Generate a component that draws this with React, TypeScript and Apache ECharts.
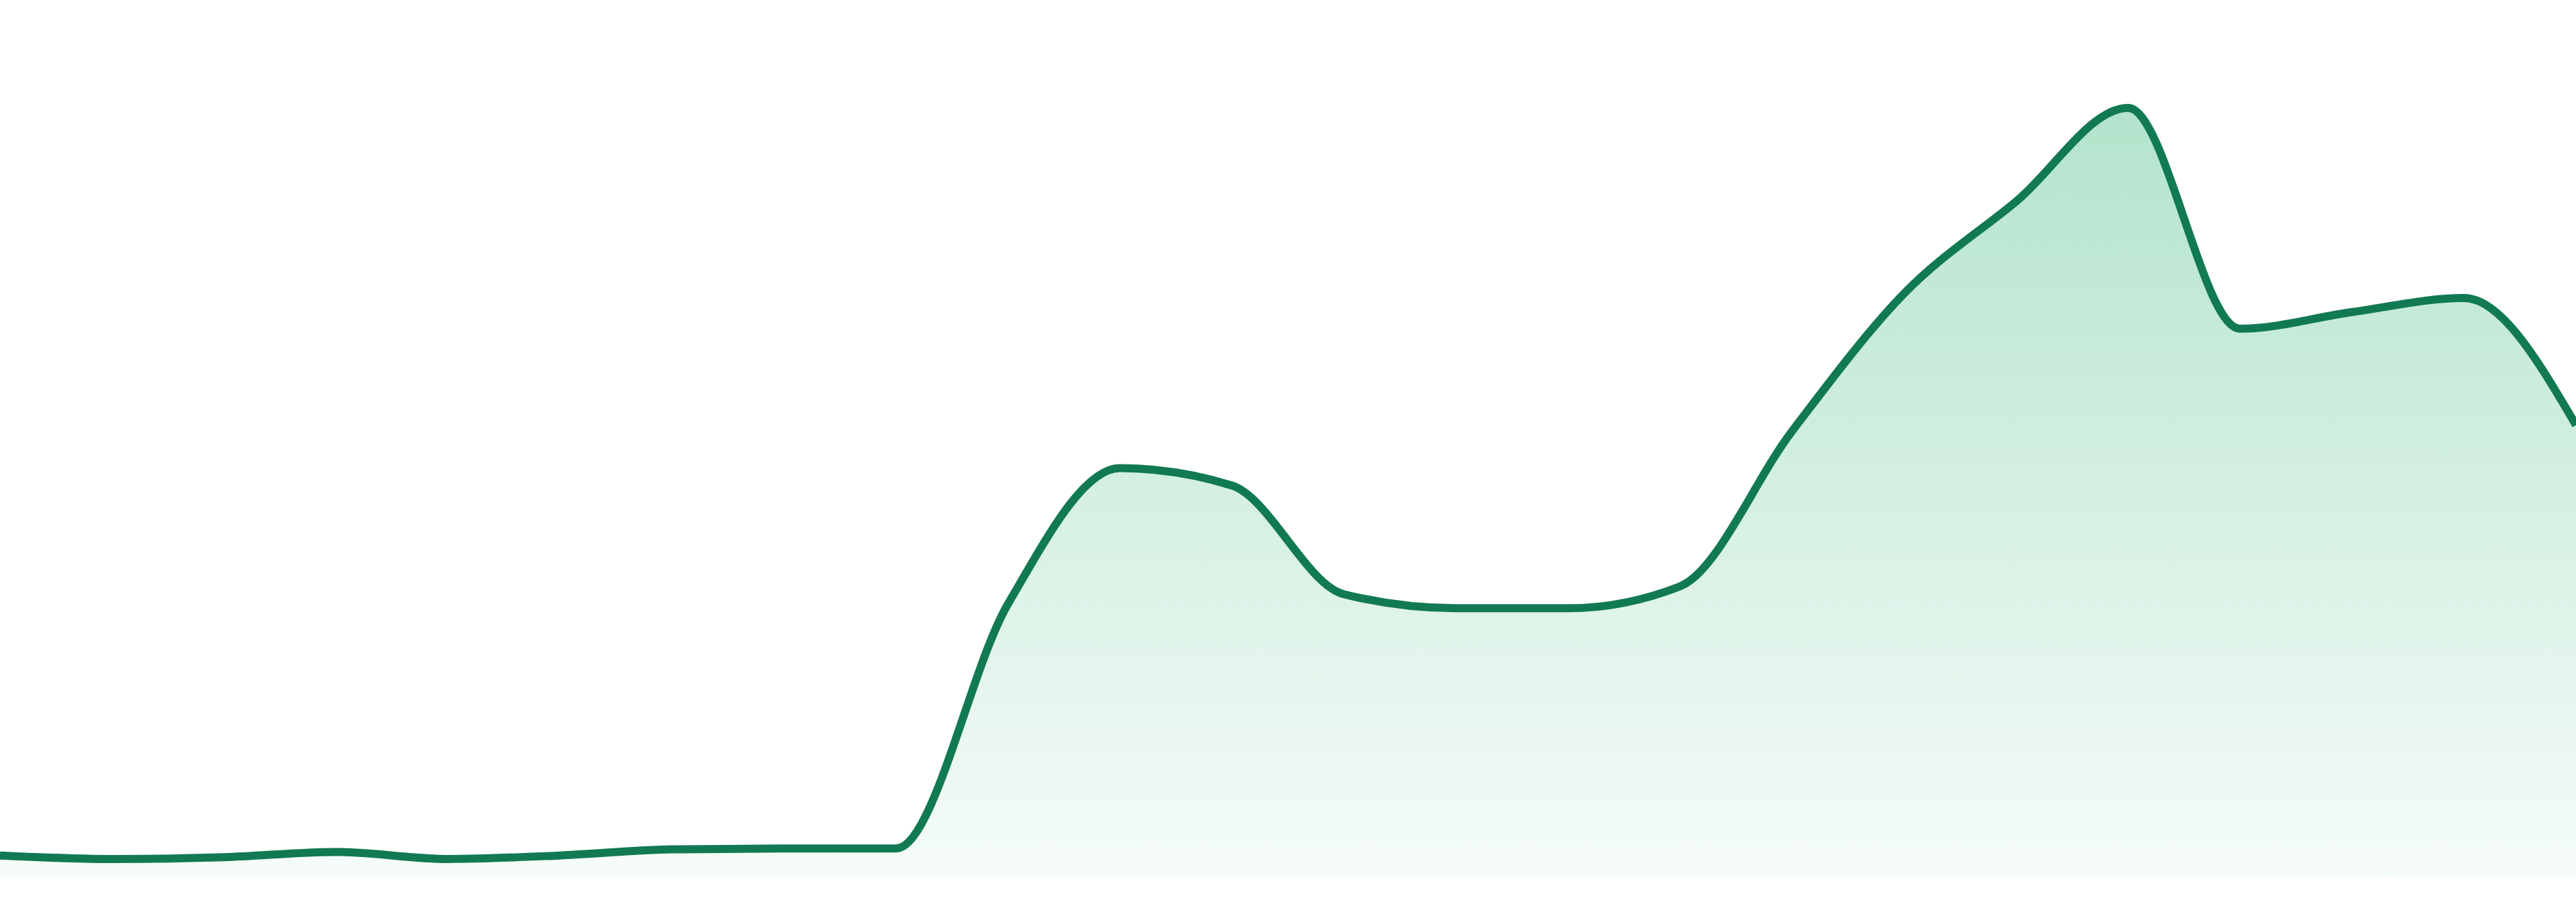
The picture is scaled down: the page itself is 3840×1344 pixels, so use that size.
import * as echarts from "echarts";
import React, { useEffect, useRef } from "react";

// one point every ~167px across the full width, no labels shown
const categories = [
  "1", "2", "3", "4", "5", "6", "7", "8", "9", "10", "11", "12",
  "13", "14", "15", "16", "17", "18", "19", "20", "21", "22", "23", "24",
];

const values = [
  2.4, 2.0, 2.2, 2.8, 2.0, 2.4, 3.1, 3.2, 3.2, 31.1, 46.6, 44.6,
  32.2, 30.6, 30.6, 33.1, 50.8, 66.5, 77.0, 87.7, 62.5, 64.4, 66.0, 51.5,
];

const yMin = 0;
const yMax = 100;

const lineColor = "#127a52";

const sign = (v: number) => (v < 0 ? -1 : 1);

// monotone-x cubic curve through the pixel points (same maths as d3.curveMonotoneX)
const monotonePath = (pts: number[][]) => {
  const n = pts.length;
  const slopes: number[] = [];
  for (let i = 0; i < n - 1; i++) {
    slopes.push((pts[i + 1][1] - pts[i][1]) / (pts[i + 1][0] - pts[i][0]));
  }
  const t: number[] = new Array(n).fill(0);
  for (let i = 1; i < n - 1; i++) {
    const h0 = pts[i][0] - pts[i - 1][0];
    const h1 = pts[i + 1][0] - pts[i][0];
    const s0 = slopes[i - 1];
    const s1 = slopes[i];
    const p = (s0 * h1 + s1 * h0) / (h0 + h1);
    t[i] = (sign(s0) + sign(s1)) * Math.min(Math.abs(s0), Math.abs(s1), 0.5 * Math.abs(p)) || 0;
  }
  t[0] = (3 * slopes[0] - t[1]) / 2;
  t[n - 1] = (3 * slopes[n - 2] - t[n - 2]) / 2;

  let d = `M${pts[0][0]},${pts[0][1]}`;
  for (let i = 0; i < n - 1; i++) {
    const [x0, y0] = pts[i];
    const [x1, y1] = pts[i + 1];
    const dx = (x1 - x0) / 3;
    d += ` C${x0 + dx},${y0 + dx * t[i]} ${x1 - dx},${y1 - dx * t[i + 1]} ${x1},${y1}`;
  }
  return d;
};

const AreaChart: React.FC = () => {
  const chartRef = useRef<HTMLDivElement | null>(null);

  useEffect(() => {
    const chart = echarts.init(chartRef.current, null, { renderer: "svg" });
    chart.setOption({
      animation: false,
      backgroundColor: "#ffffff",
      grid: { left: 0, right: 0, top: 0, bottom: 38 },
      xAxis: {
        type: "category",
        data: categories,
        boundaryGap: false,
        show: false,
      },
      yAxis: {
        type: "value",
        min: yMin,
        max: yMax,
        show: false,
      },
      series: [
        {
          type: "custom",
          data: values.map((v, i) => [i, v]),
          encode: { x: 0, y: 1 },
          clip: false,
          renderItem: (params: any, api: any) => {
            if (params.dataIndex !== 0) return null;
            const pts = values.map((v, i) => api.coord([i, v]));
            const base = api.coord([0, yMin])[1];
            const lineD = monotonePath(pts);
            const last = pts[pts.length - 1];
            const areaD = `${lineD} L${last[0]},${base} L${pts[0][0]},${base} Z`;
            return {
              type: "group",
              children: [
                {
                  type: "path",
                  shape: { pathData: areaD },
                  style: {
                    fill: new echarts.graphic.LinearGradient(0, 0, 0, 1, [
                      { offset: 0, color: "rgba(24,172,100,0.33)" },
                      { offset: 1, color: "rgba(24,172,100,0.04)" },
                    ]),
                    stroke: "none",
                  },
                },
                {
                  type: "path",
                  shape: { pathData: lineD },
                  style: {
                    fill: "none",
                    stroke: lineColor,
                    lineWidth: 12,
                    lineJoin: "round",
                  },
                },
              ],
            };
          },
        },
      ],
    });

    return () => {
      chart.dispose();
    };
  }, []);

  return (
    <div
      ref={chartRef}
      style={{ position: "fixed", left: 0, top: 0, width: "3840px", height: "1344px" }}
    ></div>
  );
};

export default function App() {
  return <AreaChart />;
}
